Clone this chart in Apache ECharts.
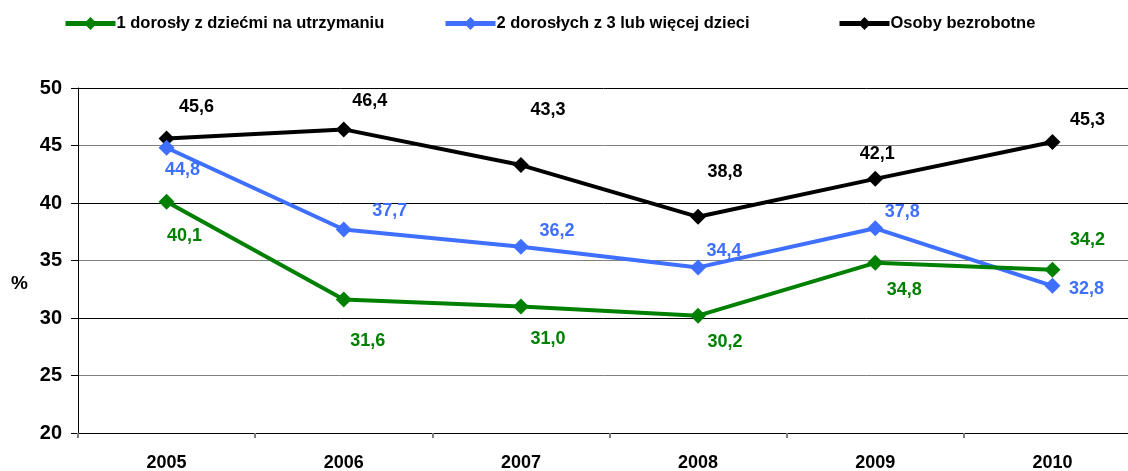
<!DOCTYPE html>
<html>
<head>
<meta charset="utf-8">
<script src="https://cdn.jsdelivr.net/npm/echarts@6/dist/echarts.min.js"></script>
<style>
  html, body { margin: 0; padding: 0; background: #fff; }
  #chart { width: 1128px; height: 471px; }
</style>
</head>
<body>
<div id="chart"></div>
<script>
// dane z wykresu
const years = ['2005', '2006', '2007', '2008', '2009', '2010']
const seriesNames = ['1 dorosły z dziećmi na utrzymaniu', '2 dorosłych z 3 lub więcej dzieci', 'Osoby bezrobotne']
const jedenDorosly = [40.1, 31.6, 31.0, 30.2, 34.8, 34.2]
const dwojeDoroslych = [44.8, 37.7, 36.2, 34.4, 37.8, 32.8]
const bezrobotni = [45.6, 46.4, 43.3, 38.8, 42.1, 45.3]
const yTicks = [20, 25, 30, 35, 40, 45, 50]

const colors = ['#008000', '#3f6fff', '#000000']
// przesunięcia etykiet (jak w oryginale z Excela)
const labelShift = [
  [[18, 34], [24, 41], [27, 33], [27, 26], [29, 27], [35, -30]],
  [[16, 22], [46, -18], [36, -16], [26, -16], [27, -16], [34, 3]],
  [[30, -32], [26, -28], [27, -55], [27, -45], [2, -25], [35, -22]]
]
const legendLeft = [63, 443, 837]

const chart = echarts.init(document.getElementById('chart'))
const allValues = [jedenDorosly, dwojeDoroslych, bezrobotni]

const fmt = v => v.toFixed(1).replace('.', ',')

const series = allValues.map((arr, i) => ({
  name: seriesNames[i],
  type: 'line',
  data: arr.map((v, j) => ({
    value: v,
    label: { offset: labelShift[i][j] }
  })),
  symbol: 'diamond',
  symbolSize: 16,
  lineStyle: { width: 4, color: colors[i] },
  itemStyle: { color: colors[i] },
  z: 3 - i,
  label: {
    show: true,
    position: 'inside',
    formatter: p => fmt(p.value),
    color: colors[i],
    fontFamily: 'Liberation Sans',
    fontWeight: 'bold',
    fontSize: 18
  },
  emphasis: { disabled: true },
  animation: false
}))

const legends = seriesNames.map((n, i) => ({
  data: [n],
  left: legendLeft[i],
  top: 15,
  padding: 0,
  itemWidth: 50,
  itemHeight: 16,
  itemGap: 4,
  lineStyle: { width: 5 },
  textStyle: {
    fontFamily: 'Liberation Sans',
    fontWeight: 'bold',
    fontSize: 16.5,
    color: '#000',
    padding: [0, 0, 0, -4]
  }
}))

chart.setOption({
  backgroundColor: '#fff',
  animation: false,
  legend: legends,
  grid: {
    left: 78,
    top: 88,
    width: 1063,
    height: 345,
    outerBoundsMode: 'none'
  },
  graphic: [{
    type: 'text',
    left: 11,
    top: 274,
    style: {
      text: '%',
      fill: '#000',
      font: 'bold 19px "Liberation Sans"'
    }
  }],
  xAxis: {
    type: 'category',
    data: years,
    boundaryGap: true,
    axisLine: { lineStyle: { color: '#000', width: 1 } },
    axisTick: { show: true, length: 5, lineStyle: { color: '#808080', width: 2 } },
    axisLabel: {
      margin: 21,
      color: '#000',
      fontFamily: 'Liberation Sans',
      fontWeight: 'bold',
      fontSize: 18
    }
  },
  yAxis: {
    type: 'value',
    min: yTicks[0],
    max: yTicks[yTicks.length - 1],
    interval: 5,
    axisLine: { show: true, lineStyle: { color: '#000', width: 1 } },
    axisTick: { show: true, length: 7, lineStyle: { color: '#000' } },
    axisLabel: {
      margin: 16,
      color: '#000',
      fontFamily: 'Liberation Sans',
      fontWeight: 'bold',
      fontSize: 20
    },
    splitLine: {
      show: true,
      lineStyle: { color: ['#000', '#808080'], width: 1 }
    }
  },
  series: series
})
</script>
</body>
</html>
